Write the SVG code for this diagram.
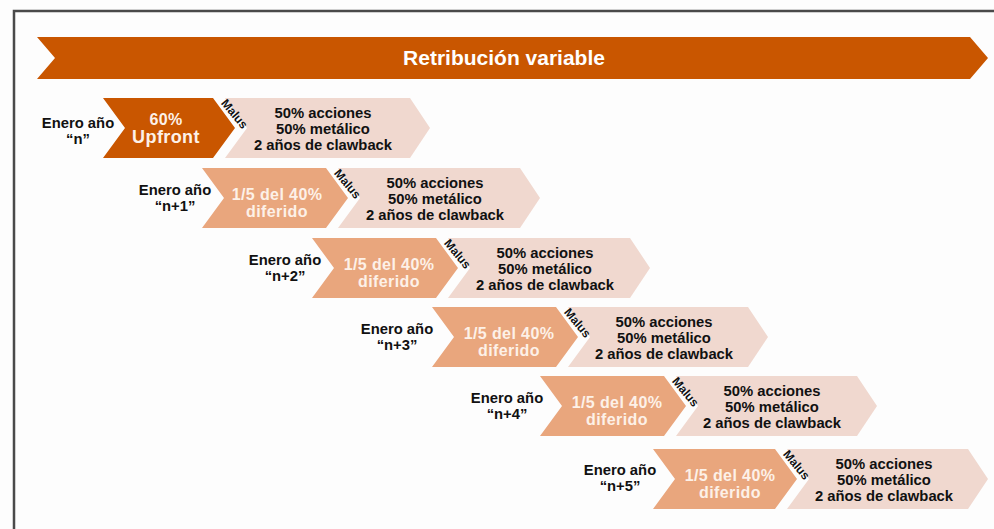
<svg xmlns="http://www.w3.org/2000/svg" width="994" height="529" viewBox="0 0 994 529">
<style>
.bg{fill:#fdfdfd}
.frame{fill:none;stroke:#4a4a4a;stroke-width:2.5}
.dark{fill:#c95600}
.mid{fill:#e9a67d}
.pale{fill:#f0d8cf}
text{font-family:"Liberation Sans",Arial,sans-serif;font-weight:bold;text-anchor:middle}
.title{font-size:21px;fill:#ffffff}
.lbl{font-size:14.8px;fill:#111111}
.body{font-size:14.8px;fill:#111111}
.wt{font-size:16px;letter-spacing:0.4px;fill:#fdf1e8}
.malus{font-size:12px;fill:#111111}
</style>
<rect class="bg" x="0" y="0" width="994" height="529"/>
<polyline class="frame" points="14,529 14,11 994,11"/>
<g id="banner">
<polygon class="dark" points="37,37 970,37 988,58 970,79 37,79 55,58"/>
<text class="title" x="504" y="65">Retribución variable</text>
</g>
<g id="connectors"></g>
<g id="row1">
<text class="lbl" x="78" y="128">Enero año</text>
<text class="lbl" x="78" y="144">“n”</text>
<polygon class="dark" points="103,98 213,98 235,128 213,158 103,158 125,128"/>
<text class="wt" x="166" y="125" style="font-size:16px">60%</text>
<text class="wt" x="166" y="143" style="font-size:18px">Upfront</text>
<polygon class="pale" points="225,98 410,98 430,128 410,158 225,158 247,128"/>
<text class="malus" transform="translate(234.5,114) rotate(50)" x="0" y="4">Malus</text>
<text class="body" x="323" y="118">50% acciones</text>
<text class="body" x="323" y="134">50% metálico</text>
<text class="body" x="323" y="150">2 años de clawback</text>
</g>
<g id="row2">
<text class="lbl" x="175" y="195">Enero año</text>
<text class="lbl" x="175" y="211">“n+1”</text>
<polygon class="mid" points="202,168 326,168 348,198 326,228 202,228 224,198"/>
<text class="wt" x="277" y="199.5">1/5 del 40%</text>
<text class="wt" x="277" y="217">diferido</text>
<polygon class="pale" points="338,168 520,168 540,198 520,228 338,228 360,198"/>
<text class="malus" transform="translate(347.5,184) rotate(50)" x="0" y="4">Malus</text>
<text class="body" x="435" y="188">50% acciones</text>
<text class="body" x="435" y="204">50% metálico</text>
<text class="body" x="435" y="220">2 años de clawback</text>
</g>
<g id="row3">
<text class="lbl" x="285" y="265">Enero año</text>
<text class="lbl" x="285" y="281">“n+2”</text>
<polygon class="mid" points="312,238 436,238 458,268 436,298 312,298 334,268"/>
<text class="wt" x="389" y="269.5">1/5 del 40%</text>
<text class="wt" x="389" y="287">diferido</text>
<polygon class="pale" points="448,238 630,238 650,268 630,298 448,298 470,268"/>
<text class="malus" transform="translate(457.5,254) rotate(50)" x="0" y="4">Malus</text>
<text class="body" x="545" y="258">50% acciones</text>
<text class="body" x="545" y="274">50% metálico</text>
<text class="body" x="545" y="290">2 años de clawback</text>
</g>
<g id="row4">
<text class="lbl" x="397" y="334">Enero año</text>
<text class="lbl" x="397" y="350">“n+3”</text>
<polygon class="mid" points="432,307 556,307 578,337 556,367 432,367 454,337"/>
<text class="wt" x="509" y="338.5">1/5 del 40%</text>
<text class="wt" x="509" y="356">diferido</text>
<polygon class="pale" points="568,307 748,307 768,337 748,367 568,367 590,337"/>
<text class="malus" transform="translate(577.5,323) rotate(50)" x="0" y="4">Malus</text>
<text class="body" x="664" y="327">50% acciones</text>
<text class="body" x="664" y="343">50% metálico</text>
<text class="body" x="664" y="359">2 años de clawback</text>
</g>
<g id="row5">
<text class="lbl" x="507" y="403">Enero año</text>
<text class="lbl" x="507" y="419">“n+4”</text>
<polygon class="mid" points="540,376 664,376 686,406 664,436 540,436 562,406"/>
<text class="wt" x="617" y="407.5">1/5 del 40%</text>
<text class="wt" x="617" y="425">diferido</text>
<polygon class="pale" points="676,376 857,376 877,406 857,436 676,436 698,406"/>
<text class="malus" transform="translate(685.5,392) rotate(50)" x="0" y="4">Malus</text>
<text class="body" x="772" y="396">50% acciones</text>
<text class="body" x="772" y="412">50% metálico</text>
<text class="body" x="772" y="428">2 años de clawback</text>
</g>
<g id="row6">
<text class="lbl" x="620" y="475">Enero año</text>
<text class="lbl" x="620" y="491">“n+5”</text>
<polygon class="mid" points="653,449 775,449 797,479 775,509 653,509 675,479"/>
<text class="wt" x="730" y="480.5">1/5 del 40%</text>
<text class="wt" x="730" y="498">diferido</text>
<polygon class="pale" points="787,449 968,449 988,479 968,509 787,509 809,479"/>
<text class="malus" transform="translate(796.5,465) rotate(50)" x="0" y="4">Malus</text>
<text class="body" x="884" y="469">50% acciones</text>
<text class="body" x="884" y="485">50% metálico</text>
<text class="body" x="884" y="501">2 años de clawback</text>
</g>
</svg>
